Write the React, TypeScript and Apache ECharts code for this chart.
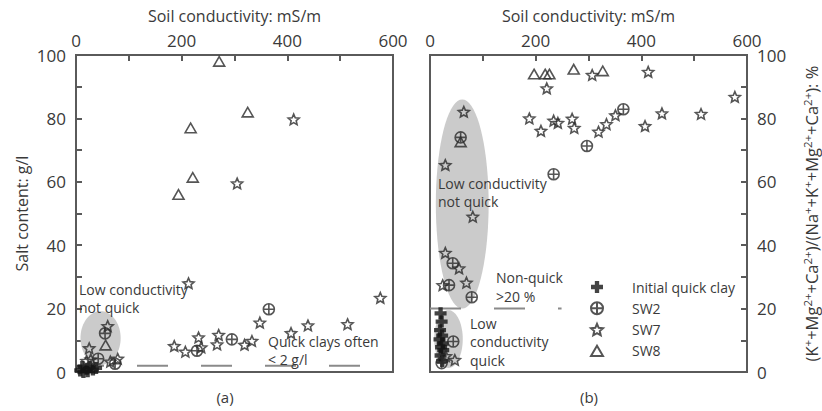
import React, { useEffect, useRef } from "react";
import * as echarts from "echarts";

// ---------- Data ----------
// Panel (a): soil conductivity (mS/m) vs salt content (g/l)
const aQuickClay: [number, number][] = [
  [8, 0.5], [14, 0], [20, 1], [26, 1.6], [32, 0.8], [38, 1.3], [12, 1.6], [22, 0.2],
];
const aSW2: [number, number][] = [
  [42, 4.2], [55, 12.2], [74, 2.6], [229, 6.7], [295, 10.3], [365, 19.8],
];
const aSW7: [number, number][] = [
  [25, 7.5], [60, 14.5], [28, 4], [20, 3.5], [79, 4.2], [65, 3.3], [213, 28],
  [186, 8.2], [207, 6.4], [232, 10.9], [237, 7.8], [270, 11.7], [267, 8.7],
  [319, 8.6], [333, 9.8], [348, 15.6], [407, 12.3], [439, 14.7], [514, 15.1],
  [576, 23.4], [305, 59.5], [412, 79.7],
];
const aSW8: [number, number][] = [
  [56, 8.5], [194, 56], [221, 61.4], [217, 77], [325, 82], [271, 98],
];

// Panel (b): soil conductivity (mS/m) vs divalent+K cation fraction (%)
const bQuickClay: [number, number][] = [
  [20, 18.5], [22, 15.9], [19, 13.2], [23, 11.5], [18, 10.3], [24, 9],
  [21, 7.8], [25, 6.9], [20, 5.2], [23, 3.5],
];
const bSW2: [number, number][] = [
  [58, 74], [234, 62.4], [297, 71.3], [366, 82.9], [43, 34.3], [36, 27.4],
  [79, 23.6], [44, 9.6], [22, 2.8],
];
const bSW7: [number, number][] = [
  [64, 82.1], [29, 65.3], [81, 49], [29, 37.6], [55, 32.7], [24, 27.4],
  [69, 28.2], [47, 3.8], [30, 5], [221, 89.5], [307, 93.7], [413, 94.7],
  [577, 86.8], [351, 81], [334, 78.2], [319, 75.8], [439, 81.6], [513, 81.4],
  [407, 77.6], [188, 80], [210, 76.1], [234, 79.3], [242, 78.6], [269, 79.9],
  [273, 77],
];
const bSW8: [number, number][] = [
  [58, 72.6], [197, 94], [218, 94], [226, 94], [272, 95.5], [327, 95],
];

// Shaded regions [centerX, centerY, radiusX, radiusY] in data units
const aRegions: number[][] = [[46.5, 10.7, 38, 8.5]];
const bRegions: number[][] = [[61, 53, 50, 33], [35, 10.4, 27, 9.1]];

// Threshold lines
const aThreshold: [number, number][] = [[0, 2], [600, 2]];
const bThreshold: [number, number][] = [[0, 20], [249, 20]];

const seriesNames = ["Initial quick clay", "SW2", "SW7", "SW8"];
const xTitle = "Soil conductivity: mS/m";
const yTitleA = "Salt content: g/l";
const yTitleB =
  "(K{s|+}+Mg{s|2+}+Ca{s|2+})/(Na{s|+}+K{s|+}+Mg{s|2+}+Ca{s|2+}): %";

// ---------- Styles ----------
const FONT = '"Open Sans", "DejaVu Sans", sans-serif';
const TXT = "#3a3a3a";
const AX = "#5a5a5a";
const MK = "#2b2b2b";

const CROSS = "path://M3.2,0H6.8V3.2H10V6.8H6.8V10H3.2V6.8H0V3.2H3.2Z";
const CIRCLE_PLUS = "path://M0,5A5,5,0,1,1,10,5A5,5,0,1,1,0,5ZM5,0V10M0,5H10";
const STAR =
  "path://M5,0L6.35,3.14L9.76,3.46L7.19,5.71L7.94,9.05L5,7.3L2.06,9.05L2.81,5.71L0.24,3.46L3.65,3.14Z";
const TRIANGLE = "path://M5,0L10,8.7L0,8.7Z";

function scatter(name: string, data: [number, number][], idx: number) {
  const i = seriesNames.indexOf(name);
  const symbol = [CROSS, CIRCLE_PLUS, STAR, TRIANGLE][i];
  const size = [12, 11, 11, 11][i];
  const filled = i === 0;
  return {
    type: "scatter",
    name,
    data,
    xAxisIndex: idx,
    yAxisIndex: idx,
    symbol,
    symbolSize: size,
    symbolKeepAspect: true,
    z: 5,
    itemStyle: filled
      ? { color: "#151515" }
      : { color: "rgba(0,0,0,0)", borderColor: MK, borderWidth: 1.6 },
    emphasis: { disabled: true },
  };
}

function region(data: number[][], idx: number) {
  return {
    type: "custom",
    xAxisIndex: idx,
    yAxisIndex: idx,
    data,
    z: 1,
    silent: true,
    encode: { x: 0, y: 1 },
    renderItem: (_p: any, api: any) => {
      const cx = api.value(0);
      const cy = api.value(1);
      const rx = api.value(2);
      const ry = api.value(3);
      const pts: number[][] = [];
      for (let k = 0; k < 72; k++) {
        const t = (k / 72) * Math.PI * 2;
        pts.push(api.coord([cx + rx * Math.cos(t), cy + ry * Math.sin(t)]));
      }
      return {
        type: "polygon",
        shape: { points: pts },
        style: { fill: "#cbcbcb" },
      };
    },
  };
}

function threshold(data: [number, number][], idx: number, offset: number) {
  return {
    type: "line",
    xAxisIndex: idx,
    yAxisIndex: idx,
    data,
    z: 2,
    silent: true,
    showSymbol: false,
    symbol: "none",
    lineStyle: { color: "#8a8a8a", width: 2, type: [31, 33], dashOffset: offset },
  };
}

function xAxis(idx: number) {
  return {
    gridIndex: idx,
    type: "value",
    position: "top",
    min: 0,
    max: 600,
    interval: 100,
    name: xTitle,
    nameLocation: "middle",
    nameGap: 31,
    nameTextStyle: { fontSize: 16, color: TXT, fontFamily: FONT },
    axisLine: { show: true, onZero: false, lineStyle: { color: AX, width: 2 } },
    axisTick: { show: true, inside: true, length: 6, lineStyle: { color: AX, width: 2 } },
    axisLabel: {
      margin: 6,
      fontSize: 17,
      color: TXT,
      fontFamily: FONT,
      formatter: (v: number) => (v % 200 === 0 ? String(v) : ""),
    },
    splitLine: { show: false },
  };
}

function yAxis(idx: number) {
  const right = idx === 1;
  return {
    gridIndex: idx,
    type: "value",
    position: right ? "right" : "left",
    min: 0,
    max: 100,
    interval: 10,
    name: right ? yTitleB : yTitleA,
    nameLocation: "middle",
    nameRotate: 90,
    nameGap: right ? 54 : 44,
    nameTextStyle: {
      fontSize: right ? 16.5 : 16,
      color: TXT,
      fontFamily: FONT,
      lineHeight: 20,
      rich: {
        s: { fontSize: 11.5, lineHeight: 11, verticalAlign: "top", color: TXT, fontFamily: FONT },
      },
    },
    axisLine: { show: true, onZero: false, lineStyle: { color: AX, width: 2 } },
    axisTick: { show: true, inside: true, length: 6, lineStyle: { color: AX, width: 2 } },
    axisLabel: {
      margin: 10,
      fontSize: 17,
      color: TXT,
      fontFamily: FONT,
      formatter: (v: number) => (v % 20 === 0 ? String(v) : ""),
    },
    splitLine: { show: false },
  };
}

function note(text: string, left: number, top: number, lh: number) {
  return {
    type: "text",
    left,
    top,
    z: 100,
    silent: true,
    style: { text, fontSize: 14, fontFamily: FONT, fill: TXT, lineHeight: lh },
  };
}

export default function App() {
  const ref = useRef<HTMLDivElement>(null);

  useEffect(() => {
    if (!ref.current) return;
    const chart = echarts.init(ref.current, undefined, { renderer: "svg" });
    const gridStyle = { show: true, borderColor: AX, borderWidth: 2, backgroundColor: "transparent" };
    chart.setOption({
      animation: false,
      grid: [
        { ...gridStyle, left: 76, top: 55, width: 317, height: 317 },
        { ...gridStyle, left: 430, top: 55, width: 320, height: 317 },
      ],
      xAxis: [xAxis(0), xAxis(1)],
      yAxis: [yAxis(0), yAxis(1)],
      legend: {
        orient: "vertical",
        left: 590,
        top: 280,
        padding: 0,
        itemWidth: 12,
        itemHeight: 12,
        itemGap: 7.3,
        symbolKeepAspect: true,
        selectedMode: false,
        data: seriesNames,
        textStyle: {
          fontSize: 14,
          color: TXT,
          fontFamily: FONT,
          lineHeight: 14,
          padding: [0, 0, 0, 24],
        },
      },
      graphic: [
        note("Low conductivity\nnot quick", 79, 280, 18),
        note("Quick clays often\n< 2 g/l", 268, 333, 17.5),
        note("Low conductivity\nnot quick", 438, 174, 18.5),
        note("Non-quick\n>20 %", 496, 268, 19),
        note("Low\nconductivity\nquick", 470, 314, 18.5),
        {
          type: "text", x: 225, y: 397, z: 100,
          style: { text: "(a)", fontSize: 15, fontFamily: FONT, fill: TXT, align: "center", verticalAlign: "middle" },
        },
        {
          type: "text", x: 589, y: 397, z: 100,
          style: { text: "(b)", fontSize: 15, fontFamily: FONT, fill: TXT, align: "center", verticalAlign: "middle" },
        },
      ],
      series: [
        region(aRegions, 0),
        region(bRegions, 1),
        threshold(aThreshold, 0, 3),
        threshold(bThreshold, 1, 0),
        scatter("Initial quick clay", aQuickClay, 0),
        scatter("SW2", aSW2, 0),
        scatter("SW7", aSW7, 0),
        scatter("SW8", aSW8, 0),
        scatter("Initial quick clay", bQuickClay, 1),
        scatter("SW2", bSW2, 1),
        scatter("SW7", bSW7, 1),
        scatter("SW8", bSW8, 1),
      ],
    });
    return () => chart.dispose();
  }, []);

  return (
    <div
      ref={ref}
      style={{ position: "absolute", left: 0, top: 0, width: 822, height: 411, background: "#fff" }}
    />
  );
}
